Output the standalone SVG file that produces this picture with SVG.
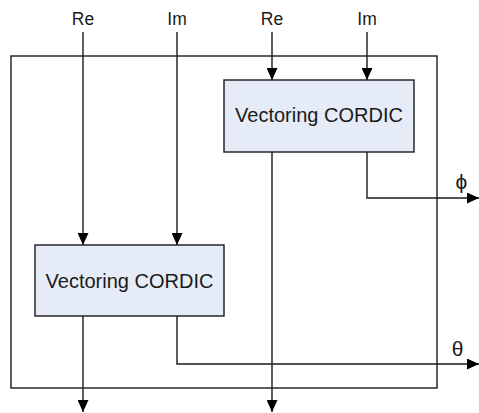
<svg xmlns="http://www.w3.org/2000/svg" width="479" height="413" viewBox="0 0 479 413">
<style>
.ln{fill:none;stroke:#1a1a1a;stroke-width:1.4}
.box{fill:#e6ecf7;stroke:#1a1a1a;stroke-width:1.4}
.t{font-family:"Liberation Sans",Arial,sans-serif;fill:#1a1a1a;text-anchor:middle}
.lbl{font-size:17.5px}
.nt{font-size:20px}
.gr{font-size:21px}
</style>
<defs>
<marker id="ah" markerUnits="userSpaceOnUse" markerWidth="12" markerHeight="11" refX="12" refY="5.5" orient="auto">
<path d="M0,0 L12,5.5 L0,11 Z" fill="#000"/>
</marker>
</defs>
<rect width="479" height="413" fill="#fff"/>
<g id="frame"><rect class="ln" x="11" y="56" width="426" height="332"/></g>
<g id="connectors">
<path class="ln" d="M83,32 V245" marker-end="url(#ah)"/>
<path class="ln" d="M177,32 V245" marker-end="url(#ah)"/>
<path class="ln" d="M272,32 V80" marker-end="url(#ah)"/>
<path class="ln" d="M367,32 V80" marker-end="url(#ah)"/>
<path class="ln" d="M272,152 V412" marker-end="url(#ah)"/>
<path class="ln" d="M83,316 V412" marker-end="url(#ah)"/>
<path class="ln" d="M367,152 V198 H479" marker-end="url(#ah)"/>
<path class="ln" d="M177,316 V364 H479" marker-end="url(#ah)"/>
</g>
<g id="cordic1">
<rect class="box" x="224" y="80" width="190" height="72"/>
<text class="t nt" x="319" y="122">Vectoring CORDIC</text>
</g>
<g id="cordic2">
<rect class="box" x="35" y="245" width="189" height="71"/>
<text class="t nt" x="129.5" y="288">Vectoring CORDIC</text>
</g>
<g id="labels">
<text class="t lbl" x="83" y="25">Re</text>
<text class="t lbl" x="177" y="25">Im</text>
<text class="t lbl" x="272" y="25">Re</text>
<text class="t lbl" x="367" y="25">Im</text>
<text class="t gr" x="461.5" y="189">ϕ</text>
<text class="t gr" x="457.5" y="356">θ</text>
</g>
</svg>
